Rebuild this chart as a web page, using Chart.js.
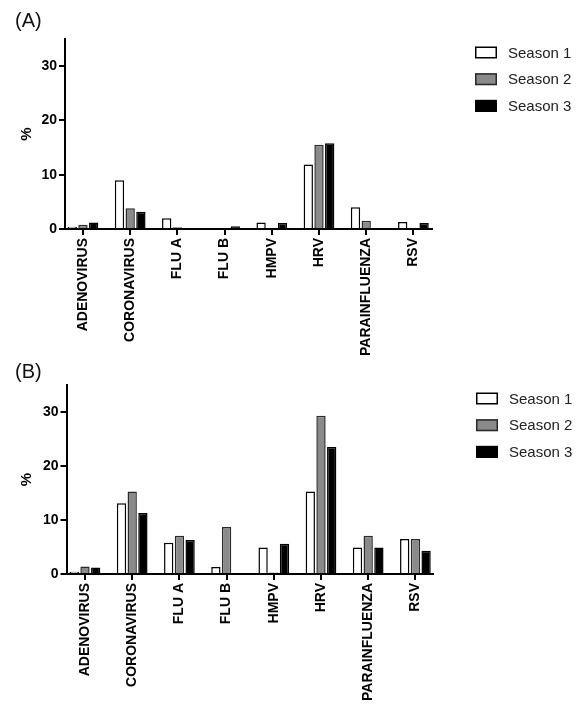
<!DOCTYPE html>
<html>
<head>
<meta charset="utf-8">
<script src="https://cdn.jsdelivr.net/npm/chart.js@4.4.1/dist/chart.umd.min.js"></script>
<style>
  html, body { margin: 0; padding: 0; background: #ffffff; }
  #wrap { position: relative; width: 579px; height: 704px; overflow: hidden; background: #fff; }
  #chartA { position: absolute; left: 0; top: 0; }
  #chartB { position: absolute; left: 0; top: 346px; }
</style>
</head>
<body>
<div id="wrap">
  <canvas id="chartA" width="579" height="362"></canvas>
  <canvas id="chartB" width="579" height="358"></canvas>
</div>
<script>
// ---------- data ----------
const categories = ['ADENOVIRUS', 'CORONAVIRUS', 'FLU A', 'FLU B', 'HMPV', 'HRV', 'PARAINFLUENZA', 'RSV'];
const seriesNames = ['Season 1', 'Season 2', 'Season 3'];
const yTickValues = [0, 10, 20, 30];

// Panel (A)
const panelA_season1 = [0.4, 9.0, 2.0, 0, 1.2, 11.9, 4.0, 1.3];
const panelA_season2 = [0.8, 3.8, 0.3, 0, 0, 15.5, 1.5, 0];
const panelA_season3 = [1.2, 3.2, 0, 0.5, 1.1, 15.8, 0, 1.1];

// Panel (B)
const panelB_season1 = [0.4, 13.1, 5.8, 1.3, 4.9, 15.3, 4.9, 6.5];
const panelB_season2 = [1.4, 15.3, 7.1, 8.7, 0.3, 29.3, 7.1, 6.5];
const panelB_season3 = [1.2, 11.3, 6.3, 0, 5.6, 23.5, 4.9, 4.3];

// ---------- styles ----------
const FONT = '"Liberation Sans", Arial, Helvetica, sans-serif';
const fills = ['#ffffff', '#8a8a8a', '#000000'];
const borders = ['#000000', '#2a2a2a', '#000000'];

const sideLegend = {
  id: 'sideLegend',
  afterDraw(chart, args, opts) {
    const ctx = chart.ctx;
    const top = chart.chartArea.top;
    ctx.save();
    chart.data.datasets.forEach((ds, i) => {
      const cy = top + opts.dy + i * opts.step;
      ctx.fillStyle = ds.backgroundColor;
      ctx.fillRect(opts.x, cy - 6, 22, 12);
      ctx.lineWidth = 1.5;
      ctx.strokeStyle = ds.borderColor;
      ctx.strokeRect(opts.x + 0.75, cy - 6 + 0.75, 22 - 1.5, 12 - 1.5);
      ctx.fillStyle = '#222';
      ctx.font = '15px ' + FONT;
      ctx.textBaseline = 'middle';
      ctx.textAlign = 'left';
      ctx.fillText(ds.label, opts.textX, cy + 1);
    });
    ctx.restore();
  }
};

function makeChart(canvasId, p) {
  const datasets = p.series.map((vals, k) => ({
    label: seriesNames[k],
    data: vals.map((v, i) => ({ x: i, y: v })),
    backgroundColor: fills[k],
    borderColor: borders[k],
    borderWidth: 1.5,
    borderSkipped: 'start',
    categoryPercentage: 0.68,
    barPercentage: 0.87
  }));
  return new Chart(document.getElementById(canvasId), {
    type: 'bar',
    data: { datasets },
    plugins: [sideLegend],
    options: {
      responsive: false,
      animation: false,
      devicePixelRatio: 1,
      layout: { padding: { left: 15, right: p.padRight, top: 0, bottom: 0 } },
      plugins: {
        legend: { display: false },
        tooltip: { enabled: false },
        title: {
          display: true, text: p.title, align: 'start', color: '#111',
          font: { family: FONT, size: 20, weight: 'normal' },
          padding: { top: p.titleTop, bottom: p.titleBottom }
        },
        sideLegend: { x: p.legendX, textX: p.legendX + 33, dy: 13.5, step: 26.7 }
      },
      scales: {
        x: {
          type: 'linear',
          min: p.xMin, max: p.xMax,
          offset: false,
          bounds: 'data',
          afterBuildTicks: s => { s.ticks = categories.map((_, i) => ({ value: i })); },
          afterFit: s => { s.height = p.xAxisHeight; },
          grid: { display: true, drawOnChartArea: false, drawTicks: true, tickLength: 6, color: '#000', lineWidth: 2, offset: false },
          border: { display: true, color: '#000', width: 2 },
          ticks: {
            autoSkip: false, maxRotation: 90, minRotation: 90, padding: 3, color: '#000',
            font: { family: FONT, size: 14, weight: 'bold' },
            callback: v => categories[v] !== undefined ? categories[v] : ''
          }
        },
        y: {
          min: 0, max: 35,
          afterBuildTicks: s => { s.ticks = yTickValues.map(v => ({ value: v })); },
          afterFit: s => { s.width = p.yAxisWidth; },
          grid: { display: true, drawOnChartArea: false, drawTicks: true, tickLength: 6, color: '#000', lineWidth: 2 },
          border: { display: true, color: '#000', width: 2 },
          ticks: { stepSize: 10, includeBounds: false, padding: 2, color: '#000', font: { family: FONT, size: 14, weight: 'bold' } },
          title: { display: true, text: '%', color: '#000', font: { family: FONT, size: 15, weight: 'bold' }, padding: { top: 3, bottom: 0 } }
        }
      }
    }
  });
}

makeChart('chartA', {
  title: '(A)', series: [panelA_season1, panelA_season2, panelA_season3],
  titleTop: 9, titleBottom: 6, padRight: 147, yAxisWidth: 50, xAxisHeight: 133,
  xMin: -0.381, xMax: 7.394, legendX: 475
});
makeChart('chartB', {
  title: '(B)', series: [panelB_season1, panelB_season2, panelB_season3],
  titleTop: 14, titleBottom: 1, padRight: 146, yAxisWidth: 51.5, xAxisHeight: 130,
  xMin: -0.392, xMax: 7.373, legendX: 476
});
</script>
</body>
</html>
